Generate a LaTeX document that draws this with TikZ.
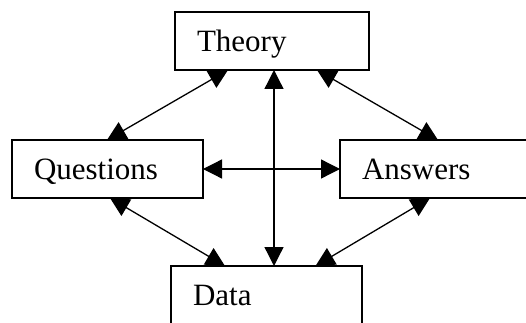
\documentclass[tikz,border=0pt]{standalone}
\usepackage{fontspec}
\setmainfont{Liberation Serif}
\usetikzlibrary{arrows.meta,backgrounds,calc}
\tikzset{
  box/.style={draw, line width=1.4pt, fill=white, anchor=north west, outer sep=0pt,
    inner xsep=22pt, inner ysep=15.5pt, text height=24pt, text depth=3pt,
    align=left, font=\fontsize{31}{37}\selectfont},
  link/.style={line width=1.3pt,
    {Triangle[length=19pt,width=19pt]}-{Triangle[length=19pt,width=19pt]}}
}
\begin{document}
\begin{tikzpicture}[x=1pt,y=-1pt]
\useasboundingbox (0,0) rectangle (526,323);
\begin{scope}
\clip (0,0) rectangle (526,323);
\node[box, text width=150pt] (T) at (175,12) {Theory};
\node[box, text width=147pt] (Q) at (12,140) {Questions};
\node[box, text width=176pt] (A) at (340,140) {Answers};
\node[box, text width=147pt, text depth=6pt] (D) at (171,266) {Data};
\end{scope}
\begin{pgfonlayer}{background}
\draw[link] ($(T.south west)+(53,0)$) -- ($(Q.north west)+(95,0)$);
\draw[link] ($(T.south west)+(142,0)$) -- ($(A.north west)+(98,0)$);
\draw[link] ($(T.south west)+(99,0)$) -- ($(D.north west)+(103,0)$);
\draw[link] (Q.east) -- (A.west);
\draw[link] ($(Q.south west)+(98,0)$) -- ($(D.north west)+(54,0)$);
\draw[link] ($(A.south west)+(90,0)$) -- ($(D.north west)+(144.5,0)$);
\end{pgfonlayer}
\end{tikzpicture}
\end{document}
